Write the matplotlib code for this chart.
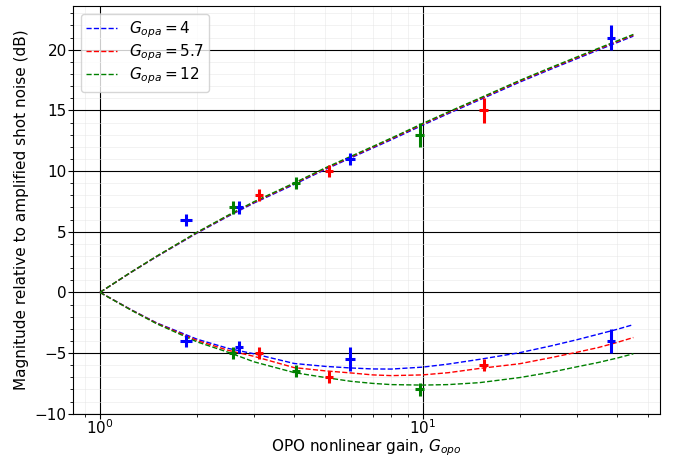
import matplotlib
matplotlib.use('Agg')
import matplotlib.pyplot as plt
from matplotlib.ticker import AutoMinorLocator

# theory curves
g_theory = [1, 1.25, 1.5, 2, 2.5, 3, 4, 5, 6, 7, 8, 10, 12, 15, 20, 25, 30, 35, 40, 45]
upper_db_4 = [0, 1.66, 2.95, 4.89, 6.28, 7.36, 8.9, 10.14, 11.09, 11.89, 12.58, 13.78,
              14.73, 15.86, 17.33, 18.4, 19.25, 19.97, 20.58, 21.12]
upper_db_57 = [0, 1.67, 2.97, 4.93, 6.33, 7.42, 8.97, 10.21, 11.16, 11.96, 12.66, 13.86,
               14.81, 15.94, 17.41, 18.48, 19.33, 20.05, 20.66, 21.2]
upper_db_12 = [0, 1.68, 2.99, 4.96, 6.37, 7.47, 9.02, 10.27, 11.22, 12.02, 12.72, 13.92,
               14.87, 16.0, 17.47, 18.54, 19.39, 20.11, 20.72, 21.26]
lower_db_4 = [0, -1.43, -2.52, -3.86, -4.62, -5.06, -5.86, -6.1, -6.23, -6.31, -6.32,
              -6.16, -5.91, -5.52, -4.97, -4.41, -3.91, -3.45, -3.05, -2.66]
lower_db_57 = [0, -1.45, -2.55, -3.97, -4.78, -5.27, -6.2, -6.47, -6.64, -6.8, -6.86,
               -6.8, -6.62, -6.27, -5.88, -5.38, -4.94, -4.55, -4.13, -3.72]
lower_db_12 = [0, -1.47, -2.59, -4.08, -4.94, -5.72, -6.61, -7.02, -7.33, -7.5, -7.6,
               -7.64, -7.6, -7.44, -7.02, -6.58, -6.14, -5.78, -5.42, -5.06]

# measured points
g_meas_4 = [1.85, 2.7, 5.97, 38.4]
xerr_4 = [0.08, 0.07, 0.22, 1.2]
up_meas_4 = [6, 7, 11, 21]
up_err_4 = [0.5, 0.5, 0.5, 1.0]
low_meas_4 = [-4, -4.5, -5.5, -4]
low_err_4 = [0.5, 0.5, 1.0, 1.0]

g_meas_57 = [3.11, 5.13, 15.45]
xerr_57 = [0.08, 0.13, 0.48]
up_meas_57 = [8, 10, 15]
up_err_57 = [0.5, 0.5, 1.0]
low_meas_57 = [-5, -7, -6]
low_err_57 = [0.5, 0.5, 0.5]

g_meas_12 = [2.58, 4.06, 9.79]
xerr_12 = [0.065, 0.11, 0.33]
up_meas_12 = [7, 9, 13]
up_err_12 = [0.5, 0.5, 1.0]
low_meas_12 = [-5, -6.5, -8]
low_err_12 = [0.5, 0.5, 0.5]

labels = ['$G_{opa} = 4$', '$G_{opa} = 5.7$', '$G_{opa} = 12$']
colors = ['b', 'r', 'g']


def make_plot():
    plt.rcParams['font.size'] = 11
    fig = plt.figure(figsize=(6.78, 4.57), dpi=100)
    ax = fig.add_axes([0.1081, 0.0947, 0.8653, 0.8921])

    uppers = [upper_db_4, upper_db_57, upper_db_12]
    lowers = [lower_db_4, lower_db_57, lower_db_12]
    for up, low, c, lab in zip(uppers, lowers, colors, labels):
        ax.plot(g_theory, up, '--', color=c, lw=1.0, label=lab)
        ax.plot(g_theory, low, '--', color=c, lw=1.0)

    meas = [
        (g_meas_4, xerr_4, up_meas_4, up_err_4, low_meas_4, low_err_4),
        (g_meas_57, xerr_57, up_meas_57, up_err_57, low_meas_57, low_err_57),
        (g_meas_12, xerr_12, up_meas_12, up_err_12, low_meas_12, low_err_12),
    ]
    for (g, xe, up, ue, low, le), c in zip(meas, colors):
        ax.errorbar(g, up, yerr=ue, xerr=xe, fmt='none', ecolor=c, elinewidth=2.2)
        ax.errorbar(g, low, yerr=le, xerr=xe, fmt='none', ecolor=c, elinewidth=2.2)

    ax.set_xscale('log')
    ax.set_xlim(10 ** -0.0827, 10 ** 1.7357)
    ax.set_ylim(-10, 23.6)
    ax.yaxis.set_minor_locator(AutoMinorLocator())
    ax.tick_params(axis='y', which='both', pad=1.3)
    ax.tick_params(axis='x', which='both', pad=0)
    ax.grid(True, which='major', color='k', lw=0.8)
    ax.grid(True, which='minor', color='#e6e6e6', lw=0.6, alpha=0.6)
    ax.set_axisbelow(True)

    ax.set_xlabel('OPO nonlinear gain, $G_{opo}$', labelpad=0)
    ax.set_ylabel('Magnitude relative to amplified shot noise (dB)')
    ax.legend(loc='upper left', labelspacing=0.18, borderpad=0.35)

    fig.savefig('out.png', dpi=100)


if __name__ == '__main__':
    make_plot()
